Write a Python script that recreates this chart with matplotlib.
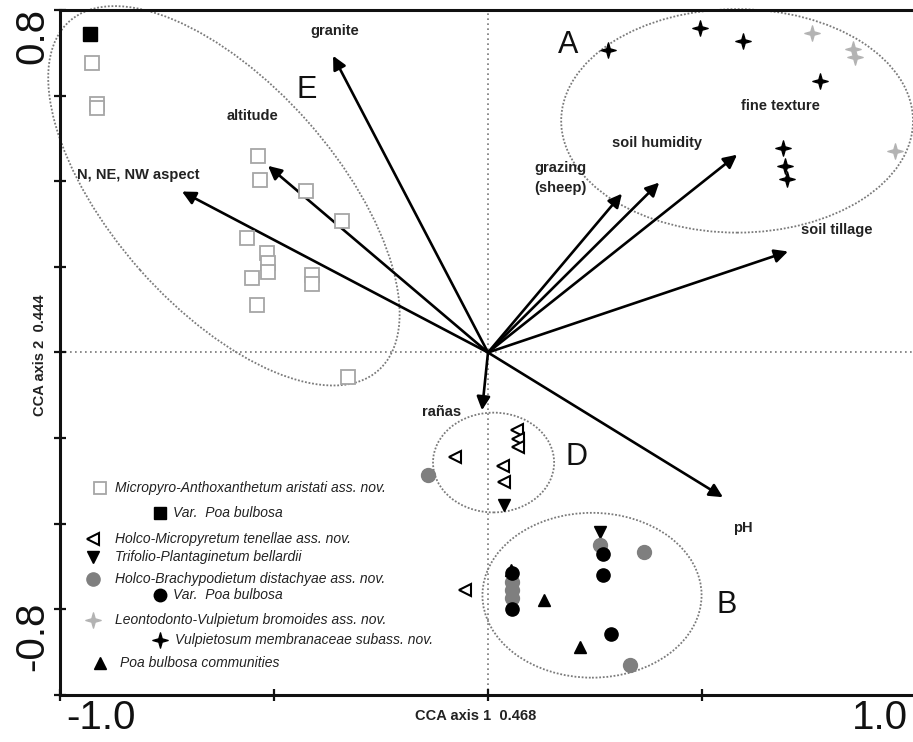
import matplotlib
matplotlib.use("Agg")
import matplotlib.pyplot as plt
import numpy as np
from matplotlib.patches import Ellipse
from matplotlib.path import Path

plt.rcParams['font.family'] = ['Liberation Sans', 'DejaVu Sans']

# ─── Data (CCA scores) ─────────────────────────────────────────────────────────

# Micropyro-Anthoxanthetum aristati (open squares)
micro_x = [-0.925, -0.914, -0.914, -0.537, -0.533, -0.425, -0.341, -0.563, -0.516,
           -0.514, -0.514, -0.551, -0.411, -0.411, -0.540, -0.327]
micro_y = [0.676, 0.581, 0.571, 0.459, 0.403, 0.378, 0.308, 0.268, 0.233,
           0.208, 0.187, 0.175, 0.180, 0.161, 0.110, -0.058]
# Var. Poa bulbosa (filled square)
micro_var_x = [-0.930]
micro_var_y = [0.744]

# Holco-Micropyretum tenellae (open left triangles)
holmic_x = [-0.077, 0.068, 0.069, 0.070, 0.035, 0.037, -0.054]
holmic_y = [-0.243, -0.182, -0.203, -0.221, -0.266, -0.303, -0.555]

# Trifolio-Plantaginetum bellardii (filled down triangles)
trifo_x = [0.037, 0.262]
trifo_y = [-0.357, -0.420]

# Holco-Brachypodietum distachyae (gray circles)
holbra_x = [-0.140, 0.262, 0.364, 0.056, 0.056, 0.056, 0.332]
holbra_y = [-0.287, -0.450, -0.466, -0.536, -0.555, -0.574, -0.730]
# Var. Poa bulbosa (black circles)
holbra_var_x = [0.269, 0.269, 0.056, 0.056, 0.287]
holbra_var_y = [-0.470, -0.520, -0.515, -0.599, -0.658]

# Leontodonto-Vulpietum bromoides (gray stars)
leon_x = [0.757, 0.853, 0.857, 0.951]
leon_y = [0.746, 0.709, 0.690, 0.471]
# Vulpietosum membranaceae (black stars)
vulp_x = [0.280, 0.495, 0.596, 0.776, 0.689, 0.694, 0.699]
vulp_y = [0.707, 0.758, 0.728, 0.634, 0.478, 0.436, 0.406]

# Poa bulbosa communities (filled up triangles)
poa_x = [0.054, 0.131, 0.215]
poa_y = [-0.508, -0.578, -0.688]

# Environmental vectors (arrow tips)
vec_names = ["granite", "altitude", "N, NE, NW aspect", "grazing\n(sheep)",
             "soil humidity", "fine texture", "soil tillage", "pH", "rañas"]
vec_x = [-0.362, -0.514, -0.715, 0.313, 0.400, 0.582, 0.701, 0.549, -0.014]
vec_y = [0.693, 0.436, 0.376, 0.371, 0.397, 0.462, 0.236, -0.338, -0.135]

# Group ellipses: letter, centre, width, height, angle
group_names = ["A", "B", "D", "E"]
group_cx = [0.582, 0.243, 0.013, -0.617]
group_cy = [0.541, -0.567, -0.257, 0.366]
group_w = [0.822, 0.512, 0.283, 1.089]
group_h = [0.522, 0.385, 0.233, 0.523]
group_ang = [0, 0, 0, -48.5]

legend_labels = [
    "Micropyro-Anthoxanthetum aristati ass. nov.",
    "Var.  Poa bulbosa",
    "Holco-Micropyretum tenellae ass. nov.",
    "Trifolio-Plantaginetum bellardii",
    "Holco-Brachypodietum distachyae ass. nov.",
    "Var.  Poa bulbosa",
    "Leontodonto-Vulpietum bromoides ass. nov.",
    "Vulpietosum membranaceae subass. nov.",
    "Poa bulbosa communities",
]

# 4-point star marker
STAR = Path([(1, 0), (0.22, 0.22), (0, 1), (-0.22, 0.22), (-1, 0), (-0.22, -0.22),
             (0, -1), (0.22, -0.22), (1, 0)],
            [Path.MOVETO] + [Path.LINETO] * 7 + [Path.CLOSEPOLY])

GRAY_SQ = "#a6a6a6"
GRAY_CIRC = "#7f7f7f"
GRAY_STAR = "#b3b3b3"

# ─── Figure ────────────────────────────────────────────────────────────────────

W, H = 913, 742
fig = plt.figure(figsize=(W / 100, H / 100), dpi=100)
ax = fig.add_axes([60 / W, 47 / H, 856 / W, 685 / H])
ax.set_xlim(-1.0, 1.0)
ax.set_ylim(-0.8, 0.8)


def fpix(x, y):
    return x / W, 1 - y / H


for s in ["left", "bottom", "top"]:
    ax.spines[s].set_linewidth(2.2)
    ax.spines[s].set_color("#111111")
ax.spines["right"].set_visible(False)
ax.set_xticks([-1.0, -0.5, 0.0, 0.5, 1.0])
ax.set_yticks(np.round(np.arange(-0.8, 0.81, 0.2), 1))
ax.set_xticklabels([])
ax.set_yticklabels([])
ax.tick_params(direction="inout", length=8, width=1.6, color="#111111")

ax.axhline(0, color="#777777", ls=(0, (1, 2)), lw=1.2, zorder=1)
ax.axvline(0, color="#777777", ls=(0, (1, 2)), lw=1.2, zorder=1)

# ellipses
for name, cx, cy, w, h, a in zip(group_names, group_cx, group_cy, group_w, group_h, group_ang):
    ax.add_patch(Ellipse((cx, cy), w, h, angle=a, fill=False, ec="#7a7a7a",
                         ls=(0, (1, 1)), lw=1.3, clip_on=False, zorder=2))

# vectors
for name, tx, ty in zip(vec_names, vec_x, vec_y):
    ax.annotate("", xy=(tx, ty), xytext=(0, 0),
                arrowprops=dict(arrowstyle="-|>", color="black", lw=1.9,
                                mutation_scale=20, shrinkA=0, shrinkB=0),
                zorder=3)

# samples
ms = 9.5
ax.plot(micro_x, micro_y, "s", ms=ms, mfc="white", mec=GRAY_SQ, mew=1.3, zorder=4)
ax.plot(micro_var_x, micro_var_y, "s", ms=ms, color="black", zorder=4)
ax.plot(holmic_x, holmic_y, "<", ms=8.5, mfc="white", mec="black", mew=1.5, zorder=4)
ax.plot(trifo_x, trifo_y, "v", ms=9, color="black", zorder=4)
ax.plot(holbra_x, holbra_y, "o", ms=10, color=GRAY_CIRC, zorder=4)
ax.plot(holbra_var_x, holbra_var_y, "o", ms=9.5, color="black", zorder=5)
ax.plot(leon_x, leon_y, marker=STAR, ls="none", ms=11, color=GRAY_STAR, zorder=4)
ax.plot(vulp_x, vulp_y, marker=STAR, ls="none", ms=11, color="black", zorder=4)
ax.plot(poa_x, poa_y, "^", ms=8.5, color="black", zorder=5)

# ─── Text ──────────────────────────────────────────────────────────────────────

lab = dict(fontsize=10.5, fontweight="bold", color="#222222", zorder=6)
vec_lab_pos = [(335, 31, "center"), (252, 116, "center"), (77, 175, "left"),
               (560, 178, "center"), (657, 143, "center"), (780, 106, "center"),
               (837, 230, "center"), (733, 528, "left"), (442, 412, "center")]
for name, (px, py, ha) in zip(vec_names, vec_lab_pos):
    fig.text(*fpix(px, py), name, ha=ha, va="center", linespacing=1.5, **lab)

letter_pos = [(568, 45), (727, 605), (576, 457), (307, 90)]
for name, (px, py) in zip(group_names, letter_pos):
    fig.text(*fpix(px, py), name, ha="center", va="center", fontsize=22, color="#111111")

# axis labels
fig.text(*fpix(476, 716), "CCA axis 1  0.468", ha="center", va="center",
         fontsize=10.5, fontweight="bold", color="#222222")
fig.text(*fpix(40, 355), "CCA axis 2  0.444", ha="center", va="center",
         rotation=90, fontsize=10.5, fontweight="bold", color="#222222")

# corner tick labels
big = dict(fontsize=29, color="#111111", va="center", ha="center")
fig.text(*fpix(101, 718), "-1.0", **big)
fig.text(*fpix(880, 718), "1.0", **big)
fig.text(*fpix(32, 36), "0.8", rotation=90, **big)
fig.text(*fpix(32, 636), "-0.8", rotation=90, **big)

# legend
leg_rows = [
    (100, 488, 115, dict(marker="s", ms=9, mfc="white", mec=GRAY_SQ, mew=1.3)),
    (160, 513, 173, dict(marker="s", ms=9, color="black")),
    (93, 539, 115, dict(marker="<", ms=8, mfc="white", mec="black", mew=1.5)),
    (93, 557, 115, dict(marker="v", ms=8.5, color="black")),
    (93, 579, 115, dict(marker="o", ms=9.5, color=GRAY_CIRC)),
    (160, 595, 173, dict(marker="o", ms=9, color="black")),
    (93, 620, 115, dict(marker=STAR, ms=11, color=GRAY_STAR)),
    (160, 640, 175, dict(marker=STAR, ms=11, color="black")),
    (100, 663, 120, dict(marker="^", ms=8, color="black")),
]
for label, (mx, my, tx, style) in zip(legend_labels, leg_rows):
    ax.plot(*fpix(mx, my), transform=fig.transFigure, ls="none", clip_on=False, **style)
    fig.text(*fpix(tx, my), label, ha="left", va="center", fontsize=10,
             style="italic", color="#222222")

fig.savefig("out.png", dpi=100)
